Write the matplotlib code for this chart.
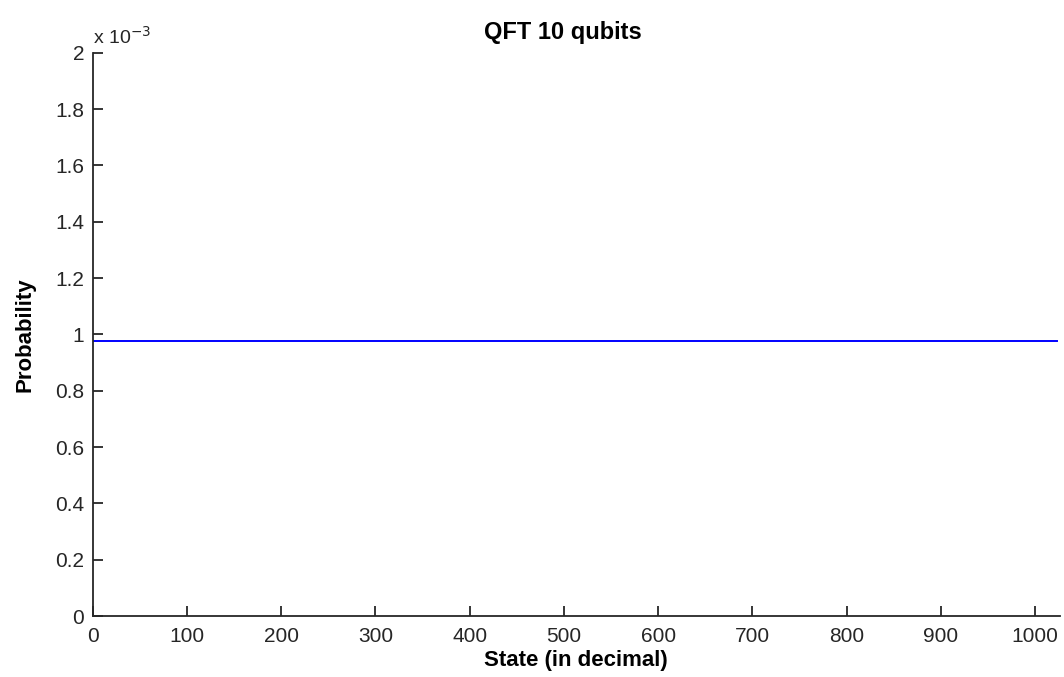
import numpy as np
import matplotlib
matplotlib.use("Agg")
import matplotlib.pyplot as plt

# datos: 10 qubits -> 1024 estados, probabilidad uniforme
N_QUBITS = 10
states = np.arange(2 ** N_QUBITS)
prob_value = 0.0009766
probability = [prob_value] * len(states)

x_ticks = [0, 100, 200, 300, 400, 500, 600, 700, 800, 900, 1000]
y_ticks = [0, 0.2, 0.4, 0.6, 0.8, 1.0, 1.2, 1.4, 1.6, 1.8, 2.0]

plt.rcParams["font.family"] = ["Liberation Sans", "DejaVu Sans"]

fig = plt.figure(figsize=(10.64, 6.77), dpi=100, facecolor="white")
ax = fig.add_axes([0.087, 0.090, 0.909, 0.832])

ax.plot(states, np.array(probability) * 1e3, color="#0000ff", lw=1.4)

ax.set_xlim(0, 1026)
ax.set_ylim(0, 2)
ax.set_xticks(x_ticks)
ax.set_yticks(y_ticks)
ax.set_yticklabels([f"{v:g}" for v in y_ticks])

ax.spines["top"].set_visible(False)
ax.spines["right"].set_visible(False)
for s in ("left", "bottom"):
    ax.spines[s].set_linewidth(1.3)
    ax.spines[s].set_color("#262626")
ax.tick_params(direction="in", length=7.5, width=1.3, labelsize=15,
               colors="#262626", labelcolor="#262626")
ax.tick_params(axis="x", pad=8)
ax.tick_params(axis="y", pad=6)

ax.text(0.0, 1.008, r"x 10$^{-3}$", transform=ax.transAxes,
        fontsize=14, ha="left", va="bottom", color="#262626")

ax.set_title("QFT 10 qubits", fontsize=17, fontweight="bold", pad=10, x=0.486)
ax.set_xlabel("State (in decimal)", fontsize=16, fontweight="bold", labelpad=3)
ax.set_ylabel("Probability", fontsize=16, fontweight="bold", labelpad=14)

plt.savefig("out.png", dpi=100, facecolor="white")
